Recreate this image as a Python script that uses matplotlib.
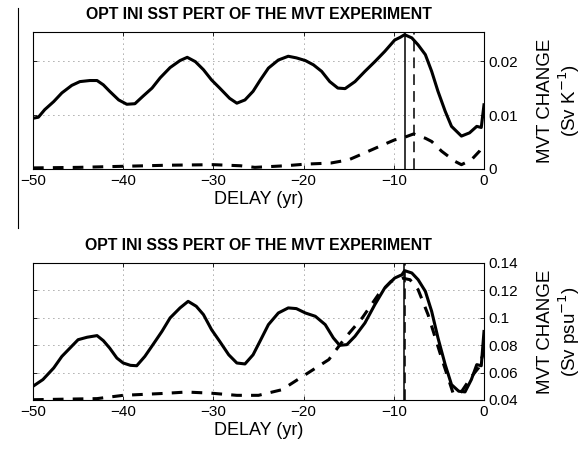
import numpy as np
import matplotlib
matplotlib.use("Agg")
import matplotlib.pyplot as plt
from matplotlib.lines import Line2D
from matplotlib.ticker import FuncFormatter

plt.rcParams['font.family'] = ['Liberation Sans', 'DejaVu Sans']

# --- données ---
# SST : courbe pleine
t_sst = [-50, -49.4, -48.7, -47.7, -46.8, -45.7, -44.8, -43.7, -42.9, -42.2, -41.5,
         -40.5, -39.6, -38.7, -37.8, -36.8, -35.9, -34.8, -33.7, -32.9, -32.0, -31.1,
         -30.2, -29.3, -28.2, -27.4, -26.5, -25.6, -24.8, -23.9, -22.8, -21.7, -20.8,
         -19.8, -18.9, -18.0, -17.1, -16.2, -15.4, -14.3, -13.2, -12.1, -11.0, -9.9,
         -9.3, -8.8, -8.0, -7.3, -6.5, -5.8, -5.1, -4.3, -3.6, -2.5, -1.6, -0.8, -0.3, 0]
sst = [0.0094, 0.0096, 0.0110, 0.0125, 0.0141, 0.0155, 0.0162, 0.0164, 0.0164, 0.0156, 0.0144,
       0.0128, 0.0120, 0.0121, 0.0135, 0.0150, 0.0169, 0.0188, 0.0201, 0.0207, 0.0199, 0.0184,
       0.0165, 0.0150, 0.0131, 0.0122, 0.0128, 0.0144, 0.0165, 0.0187, 0.0202, 0.0209, 0.0206,
       0.0201, 0.0193, 0.0181, 0.0162, 0.0150, 0.0149, 0.0162, 0.0181, 0.0199, 0.0218, 0.0239,
       0.0244, 0.0249, 0.0243, 0.0230, 0.0212, 0.0181, 0.0144, 0.0107, 0.0079, 0.0061, 0.0067,
       0.0079, 0.0077, 0.0119]
# SST : courbe tiretée
t_sst_d = [-50, -45, -40, -35, -30, -27, -25.4, -22, -19.8, -17, -15.0, -13.2, -11.3, -9.9,
           -9.1, -7.8, -6.5, -5.8, -4.7, -3.2, -2.5, -1.4, -0.5, 0]
sst_d = [0.0002, 0.0003, 0.0005, 0.0007, 0.0008, 0.0006, 0.0003, 0.0006, 0.0009, 0.0011,
         0.0017, 0.0030, 0.0044, 0.0054, 0.0057, 0.0065, 0.0057, 0.0051, 0.0033, 0.0014,
         0.0008, 0.0017, 0.0033, 0.0048]

# SSS : courbe pleine
t_sss = [-50, -48.9, -47.7, -46.8, -45.9, -45.0, -44.0, -42.9, -42.2, -41.5, -40.7, -40.0,
         -39.2, -38.5, -37.6, -36.7, -35.7, -34.8, -33.7, -32.8, -31.9, -31.1, -30.2, -29.3,
         -28.3, -27.4, -26.5, -25.6, -24.8, -23.9, -22.8, -21.7, -20.8, -19.8, -18.7, -17.6,
         -16.7, -16.0, -15.2, -14.3, -13.2, -12.1, -11.0, -9.9, -9.1, -8.8, -8.0, -7.3, -6.5,
         -5.8, -5.1, -4.3, -3.6, -2.8, -2.1, -1.4, -0.8, -0.3, 0]
sss = [0.050, 0.0549, 0.0634, 0.0718, 0.0779, 0.0840, 0.0858, 0.0870, 0.0833, 0.0779, 0.0706,
       0.0670, 0.0653, 0.0650, 0.0718, 0.0804, 0.0901, 0.0999, 0.1072, 0.1120, 0.1084, 0.1023,
       0.0913, 0.0828, 0.0730, 0.0670, 0.0663, 0.0730, 0.0833, 0.0950, 0.1035, 0.1072, 0.1067,
       0.1035, 0.1011, 0.0950, 0.0853, 0.0799, 0.0804, 0.0865, 0.0962, 0.1096, 0.1218, 0.1290,
       0.1314, 0.1344, 0.1327, 0.1278, 0.1193, 0.1047, 0.0853, 0.0658, 0.0512, 0.0464, 0.0459,
       0.0549, 0.0658, 0.0650, 0.0900]
# SSS : courbe tiretée
t_sss_d = [-50, -42.9, -40, -35.5, -33, -30.3, -27.4, -25, -22.4, -19.8, -17.2, -15.4, -13.5,
           -11.7, -10.3, -9.1, -8.2, -7.3, -6.2, -4.7, -3.4, -2.5, -1.4, -0.6, 0]
sss_d = [0.0402, 0.0410, 0.0434, 0.0448, 0.0458, 0.0450, 0.0434, 0.0434, 0.0475, 0.0585,
         0.0695, 0.0853, 0.0999, 0.1170, 0.1266, 0.1290, 0.1278, 0.1205, 0.1023, 0.0706,
         0.0445, 0.0460, 0.0569, 0.0635, 0.0755]

# lignes verticales (maximum de chaque courbe)
vl_sst = (-8.8, -7.8)
vl_sss = (-8.9, -8.75)

titres = ["OPT INI SST PERT OF THE MVT EXPERIMENT", "OPT INI SSS PERT OF THE MVT EXPERIMENT"]
ylabels = ["MVT CHANGE\n(Sv K$^{-1}$)", "MVT CHANGE\n(Sv psu$^{-1}$)"]

fig = plt.figure(figsize=(5.87, 4.51), dpi=100)
ax1 = fig.add_axes([0.0562, 0.6253, 0.7683, 0.3038])
ax2 = fig.add_axes([0.0562, 0.1131, 0.7683, 0.3038])

def fmt(v, pos):
    return ('%g' % round(v, 4)).replace('-', '\u2212')

panels = [
    (ax1, t_sst, sst, t_sst_d, sst_d, vl_sst, (0, 0.0254), [0, 0.01, 0.02]),
    (ax2, t_sss, sss, t_sss_d, sss_d, vl_sss, (0.04, 0.14), [0.04, 0.06, 0.08, 0.1, 0.12, 0.14]),
]
for i, (ax, t, y, td, yd, vl, ylim, yt) in enumerate(panels):
    ax.plot(t, y, color='black', lw=2.2, solid_joinstyle='round')
    ax.plot(td, yd, color='black', lw=2.2, dashes=[3.5, 3.0])
    ax.axvline(vl[0], color='black', lw=1.1)
    ax.axvline(vl[1], color='black', lw=1.1, dashes=[7, 4])
    ax.set_xlim(-50, 0)
    ax.set_ylim(*ylim)
    ax.set_xticks([-50, -40, -30, -20, -10, 0])
    ax.set_yticks(yt)
    ax.xaxis.set_major_formatter(FuncFormatter(fmt))
    ax.yaxis.set_major_formatter(FuncFormatter(fmt))
    ax.grid(True, color='#555555', lw=0.6, linestyle=(0, (1, 5)))
    ax.tick_params(direction='in', top=True, right=True, left=True,
                   labelleft=False, labelright=True, labelsize=11, length=3, width=0.6)
    ax.yaxis.set_label_position('right')
    ax.set_ylabel(ylabels[i], fontsize=13.5, labelpad=13, linespacing=1.15)
    ax.set_xlabel("DELAY (yr)", fontsize=13, labelpad=2)
    ax.set_title(titres[i], fontsize=11.4, fontweight='bold', pad=9)
    for s in ax.spines.values():
        s.set_linewidth(0.8)

# trait vertical à gauche (présent sur l'original)
fig.add_artist(Line2D([18 / 587, 18 / 587], [1 - 8 / 451, 1 - 228 / 451], color='black', lw=0.8))

fig.savefig("out.png", dpi=100)
